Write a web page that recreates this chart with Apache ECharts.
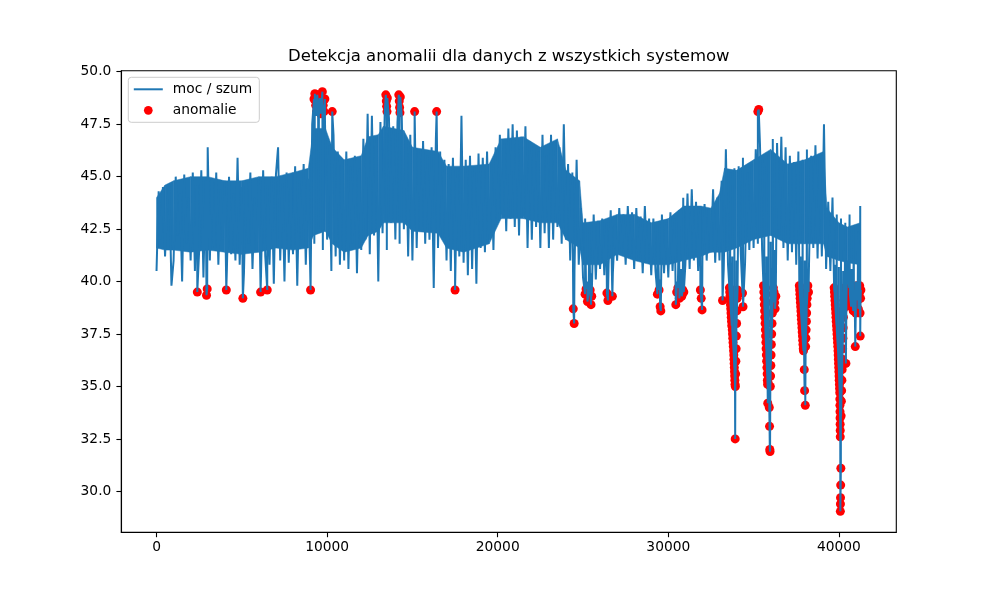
<!DOCTYPE html>
<html>
<head>
<meta charset="utf-8">
<title>Detekcja anomalii</title>
<script src="https://cdn.jsdelivr.net/npm/echarts@6/dist/echarts.min.js"></script>
<style>
  html, body { margin: 0; padding: 0; background: #fff; }
  #chart { width: 991px; height: 593px; }
</style>
</head>
<body>
<div id="chart"></div>
<script>
// power trace, one value every sampleStep samples
const sampleStep = 125;
const powerValues = [
  40.5, 44.3, 42.0, 44.5, 41.2, 43.8, 44.6, 39.8,
  41.0, 45.0, 42.2, 44.2, 40.0, 45.1, 41.8, 44.0,
  41.0, 45.2, 40.5, 44.6, 41.5, 45.3, 40.2, 44.8,
  46.4, 41.0, 44.9, 41.6, 45.2, 40.8, 44.4, 42.0,
  44.8, 40.6, 45.0, 41.3, 44.2, 41.0, 45.9, 40.8,
  44.5, 40.4, 44.8, 41.8, 45.2, 40.6, 44.0, 41.5,
  44.9, 40.3, 45.3, 41.2, 44.6, 40.8, 45.0, 39.9,
  45.1, 46.4, 41.0, 44.7, 40.0, 45.2, 40.9, 44.5,
  41.3, 45.5, 39.8, 44.8, 42.0, 45.6, 40.8, 44.9,
  40.8, 47.5, 41.8, 47.9, 42.5, 48.0, 41.5, 47.6,
  42.0, 46.5, 40.5, 47.0, 41.2, 46.2, 40.8, 45.8,
  41.0, 46.2, 40.6, 45.5, 41.8, 46.0, 40.4, 45.4,
  41.5, 46.8, 42.0, 48.0, 41.3, 47.9, 42.2, 46.9,
  40.0, 47.6, 42.3, 48.0, 41.5, 47.8, 42.8, 47.4,
  42.0, 47.6, 41.8, 47.9, 42.5, 46.8, 41.2, 47.0,
  41.0, 46.6, 41.6, 46.3, 42.4, 46.7, 41.8, 46.0,
  42.0, 46.4, 39.7, 46.8, 41.6, 46.2, 42.1, 45.8,
  41.0, 45.6, 40.5, 45.9, 40.8, 45.4, 41.2, 47.9,
  40.9, 45.8, 40.3, 46.0, 40.6, 45.5, 39.9, 46.1,
  41.6, 45.9, 41.4, 46.2, 42.0, 45.6, 41.5, 46.4,
  42.8, 47.0, 43.2, 46.6, 42.4, 47.3, 43.0, 47.5,
  42.6, 47.2, 42.2, 46.9, 43.1, 47.4, 41.6, 46.7,
  42.0, 46.5, 42.6, 46.2, 41.6, 47.0, 42.3, 46.0,
  41.6, 47.0, 42.0, 46.5, 42.6, 46.4, 41.8, 47.5,
  42.0, 45.6, 41.0, 45.2, 40.5, 45.8, 40.8, 43.5,
  40.2, 43.0, 40.0, 42.6, 40.4, 43.2, 40.1, 42.9,
  40.6, 43.0, 40.3, 42.8, 40.8, 43.4, 40.4, 42.7,
  41.0, 43.5, 41.4, 43.2, 40.8, 43.6, 41.2, 43.3,
  40.6, 43.5, 41.0, 43.1, 40.4, 43.6, 40.9, 43.0,
  40.3, 43.0, 40.5, 42.7, 40.1, 43.2, 40.4, 42.8,
  40.2, 43.3, 40.5, 43.0, 40.0, 43.4, 40.6, 44.0,
  40.8, 44.2, 40.6, 44.4, 41.0, 43.8, 40.5, 43.6,
  41.2, 43.7, 41.0, 43.5, 41.4, 44.4, 40.9, 44.0,
  41.0, 44.8, 40.6, 46.3, 40.8, 45.2, 41.2, 45.4,
  41.0, 45.5, 41.3, 45.9, 40.9, 45.2, 41.5, 45.6,
  41.6, 46.3, 41.8, 46.5, 41.5, 45.8, 41.2, 46.0,
  41.9, 46.8, 41.5, 46.6, 42.2, 46.9, 41.6, 46.4,
  41.0, 46.0, 41.4, 45.7, 40.8, 46.2, 41.2, 45.8,
  41.0, 46.3, 40.9, 46.0, 41.6, 46.5, 41.1, 45.9,
  41.2, 47.5, 40.6, 43.8, 40.5, 44.0, 40.8, 43.2,
  40.7, 43.0, 40.5, 42.8, 41.0, 43.2, 40.6, 42.6,
  40.0, 42.4, 43.6
];

// solid middle of the noise band (sample, lower edge, upper edge)
const bandX = [0, 500, 1000, 2000, 3000, 4000, 5000, 6000, 7000, 8000, 8900, 9200, 9900, 10300, 11000, 12000, 12400, 13000,
  13300, 14500, 15000, 16500, 17000, 18000, 19500, 20200, 21500, 22500, 23500, 24000, 24800, 25000, 26000, 27000, 28000,
  29000, 30000, 30900, 31900, 32500, 33000, 33300, 34000, 35000, 36000, 37000, 38000, 39100, 39300, 40000, 40500, 41250];
const bandLow = [41.6, 41.5, 41.5, 41.4, 41.5, 41.4, 41.3, 41.4, 41.6, 41.5, 41.6, 42.2, 42.4, 41.8, 41.4, 41.6, 42.2, 42.4,
  42.8, 42.8, 42.4, 42.3, 41.6, 41.4, 41.8, 43.0, 43.0, 42.8, 42.8, 42.0, 41.6, 40.8, 40.8, 41.3, 41.0,
  40.8, 40.8, 41.0, 41.2, 41.4, 41.4, 41.4, 41.6, 42.0, 42.2, 41.8, 41.8, 41.8, 41.2, 41.0, 40.9, 40.8];
const bandHigh = [44.0, 44.6, 44.8, 45.0, 45.0, 44.8, 44.8, 45.0, 45.0, 45.2, 45.4, 47.3, 47.3, 46.4, 45.8, 46.0, 46.9, 47.0,
  47.4, 47.2, 46.4, 46.2, 45.5, 45.5, 45.6, 46.8, 46.9, 46.4, 46.8, 45.3, 44.8, 42.8, 42.9, 43.2, 43.2,
  42.8, 43.0, 43.6, 43.6, 43.5, 44.2, 45.4, 45.3, 45.8, 46.3, 45.6, 45.8, 46.2, 43.5, 42.8, 42.6, 42.8];

// detected anomalies [sample, value]
const anomalies = [
  [2390, 39.5], [2930, 39.35], [2970, 39.65], [4090, 39.6], [5060, 39.2], [6100, 39.5], [6490, 39.6], [9030, 39.6],
  [9230, 48.7], [9280, 48.95], [9330, 48.4], [9380, 48.1], [9420, 48.9], [9470, 48.5], [9520, 48.2], [9580, 48.75],
  [9620, 48.0], [9680, 48.6], [9720, 49.05], [9770, 48.4], [9820, 48.1], [9870, 48.7], [10300, 48.1],
  [13440, 48.9], [13470, 48.6], [13490, 48.35], [13510, 48.1], [13530, 48.75],
  [14200, 48.9], [14230, 48.6], [14250, 48.3], [14270, 48.05], [14290, 48.8],
  [15130, 48.1], [16420, 48.1], [17500, 39.6],
  [24430, 38.7], [24480, 38.0],
  [25120, 39.4], [25180, 39.65], [25260, 39.05], [25330, 39.5], [25420, 39.6], [25470, 38.9], [25510, 39.3],
  [26400, 39.45], [26460, 39.1], [26720, 39.3],
  [29360, 39.4], [29460, 39.6], [29520, 38.8], [29560, 38.6],
  [30440, 38.9], [30490, 39.5], [30560, 39.7], [30650, 39.2], [30790, 39.3], [30850, 39.6], [30910, 39.5],
  [31880, 39.6], [31930, 39.2], [31980, 38.65], [33180, 39.1],
  // drop near 33900
  [33580, 39.7], [33600, 39.5], [33615, 39.3], [33630, 39.1], [33645, 38.9], [33660, 38.7], [33675, 38.5],
  [33690, 38.3], [33705, 38.1], [33720, 37.9], [33735, 39.6], [33750, 37.7], [33765, 37.5], [33780, 37.3],
  [33795, 37.1], [33810, 36.9], [33825, 36.7], [33840, 36.5], [33850, 36.3], [33860, 36.1], [33870, 35.9],
  [33880, 35.7], [33890, 35.5], [33900, 35.3], [33910, 35.1], [33920, 32.5], [33930, 35.0], [33945, 35.6],
  [33960, 36.2], [33975, 36.8], [33990, 37.4], [34005, 38.0], [34020, 38.6], [34040, 39.2], [34060, 39.6],
  [34350, 39.45], [34380, 38.8], [35250, 48.1], [35300, 48.2],
  // drop near 35900
  [35580, 39.8], [35600, 39.5], [35615, 39.2], [35630, 38.9], [35645, 38.6], [35660, 38.3], [35675, 38.0],
  [35690, 37.7], [35705, 37.4], [35720, 37.1], [35735, 36.8], [35750, 36.5], [35765, 36.2], [35780, 35.9],
  [35795, 35.6], [35810, 35.3], [35820, 35.1], [35830, 34.2], [35845, 35.2], [35860, 35.6], [35875, 36.0],
  [35890, 36.5], [35905, 37.0], [35920, 34.0], [35935, 33.1], [35950, 32.0], [35965, 31.9], [35980, 35.0],
  [35995, 35.5], [36010, 36.0], [36025, 36.5], [36040, 37.0], [36060, 37.5], [36080, 38.0], [36100, 38.5],
  [36120, 39.0], [36140, 39.4], [36160, 39.7], [36200, 39.5], [36230, 39.0], [36260, 38.7], [36300, 39.3],
  // drop near 37900
  [37680, 39.8], [37700, 39.6], [37715, 39.4], [37730, 39.2], [37745, 39.0], [37760, 38.8], [37775, 38.6],
  [37790, 38.4], [37805, 38.2], [37820, 38.0], [37835, 37.8], [37850, 37.6], [37865, 37.4], [37880, 37.2],
  [37895, 37.0], [37910, 36.8], [37925, 36.7], [37940, 37.1], [37955, 37.5], [37970, 35.8], [37990, 34.8],
  [38030, 34.1], [38050, 36.9], [38065, 37.3], [38080, 37.7], [38095, 38.1], [38110, 38.5], [38125, 38.9],
  [38140, 39.2], [38160, 39.5], [38180, 39.8], [38220, 39.5],
  // drop near 40000
  [39720, 39.7], [39740, 39.5], [39755, 39.3], [39770, 39.1], [39785, 38.9], [39800, 38.7], [39815, 38.5],
  [39830, 38.3], [39845, 38.1], [39860, 37.9], [39875, 37.7], [39890, 37.5], [39905, 37.3], [39920, 37.1],
  [39935, 36.9], [39950, 36.7], [39960, 36.5], [39970, 36.3], [39980, 36.1], [39990, 35.9], [40000, 35.7],
  [40010, 35.5], [40020, 35.3], [40030, 35.1], [40040, 34.9], [40050, 34.7], [40055, 34.4], [40060, 34.1],
  [40065, 33.8], [40070, 33.5], [40075, 33.2], [40078, 32.9], [40080, 32.6], [40085, 29.05], [40090, 29.4],
  [40095, 29.7], [40105, 30.3], [40115, 31.1], [40130, 33.6], [40145, 34.3], [40160, 34.8], [40175, 35.3],
  [40190, 35.8], [40205, 36.3], [40220, 36.8], [40235, 37.3], [40250, 37.8], [40265, 38.3], [40280, 38.7],
  [40300, 39.1], [40320, 39.5], [40340, 39.7], [40380, 39.3], [40410, 36.1], [40440, 39.0],
  // last stretch
  [40600, 39.7], [40640, 39.4], [40680, 39.1], [40720, 38.8], [40760, 39.5], [40800, 39.2], [40840, 38.6],
  [40880, 39.0], [40920, 39.6], [40960, 36.9], [40990, 38.5], [41020, 39.3], [41060, 39.8], [41100, 39.1],
  [41140, 38.7], [41180, 39.4], [41220, 39.8], [41240, 38.5], [41250, 37.4], [41270, 39.2], [41290, 39.6]
];

const xTicks = [0, 10000, 20000, 30000, 40000];
const yTicks = [30, 32.5, 35, 37.5, 40, 42.5, 45, 47.5, 50];

// the trace passes through the anomaly points too
const tracePoints = powerValues.map((v, i) => [i * sampleStep, v])
  .concat(anomalies)
  .sort((a, b) => a[0] - b[0]);
const bandData = bandX.map((x, i) => [x, bandLow[i], bandHigh[i]]);

const font = 'DejaVu Sans';
const blue = '#1f77b4';

// fills the band between point i and i+1
function renderBand(params, api) {
  const i = params.dataIndex;
  if (i >= bandData.length - 1) return null;
  const a = bandData[i], b = bandData[i + 1];
  const pts = [
    api.coord([a[0], a[1]]), api.coord([b[0], b[1]]),
    api.coord([b[0], b[2]]), api.coord([a[0], a[2]])
  ];
  return {
    type: 'polygon',
    shape: { points: pts },
    style: { fill: blue, stroke: blue, lineWidth: 0.5 }
  };
}

const chart = echarts.init(document.getElementById('chart'), null, { renderer: 'canvas' });
chart.setOption({
  animation: false,
  backgroundColor: '#fff',
  title: {
    text: 'Detekcja anomalii dla danych z wszystkich systemow',
    left: 508.8,
    top: 48,
    textAlign: 'center',
    padding: 0,
    textStyle: { fontFamily: font, fontSize: 16.5, fontWeight: 'normal', color: '#000' }
  },
  legend: {
    orient: 'vertical',
    left: 128.3,
    top: 77.3,
    data: [
      { name: 'moc / szum', itemStyle: { opacity: 0 } },
      { name: 'anomalie' }
    ],
    itemWidth: 29,
    itemHeight: 8.7,
    itemGap: 7,
    padding: [5, 7, 5, 4.5],
    borderColor: '#cccccc',
    borderWidth: 1,
    borderRadius: 3,
    backgroundColor: 'rgba(255,255,255,0.8)',
    selectedMode: false,
    textStyle: { fontFamily: font, fontSize: 13.8, color: '#000', lineHeight: 14, padding: [0, 0, 0, 5] }
  },
  grid: {
    left: 121.3,
    right: 94.7,
    top: 70.7,
    bottom: 60.7,
    show: true,
    borderColor: '#000',
    borderWidth: 1.1,
    outerBoundsMode: 'none'
  },
  xAxis: {
    type: 'value',
    min: -2065,
    max: 43365,
    axisLine: { show: true, onZero: false, lineStyle: { color: '#000', width: 1.1 } },
    axisTick: { show: true, length: 4.9, customValues: xTicks, lineStyle: { color: '#000', width: 1.1 } },
    axisLabel: {
      customValues: xTicks, margin: 8, color: '#000', fontFamily: font, fontSize: 13.8,
      formatter: v => String(v)
    },
    splitLine: { show: false }
  },
  yAxis: {
    type: 'value',
    min: 28.05,
    max: 50.05,
    axisLine: { show: true, onZero: false, lineStyle: { color: '#000', width: 1.1 } },
    axisTick: { show: true, length: 4.9, customValues: yTicks, lineStyle: { color: '#000', width: 1.1 } },
    axisLabel: {
      customValues: yTicks, margin: 10, color: '#000', fontFamily: font, fontSize: 13.8,
      formatter: v => v.toFixed(1)
    },
    splitLine: { show: false }
  },
  series: [
    {
      name: 'band', type: 'custom', data: bandData, renderItem: renderBand, silent: true,
      encode: { x: 0, y: [1, 2] }
    },
    {
      name: 'moc / szum', type: 'line', data: tracePoints, symbol: 'none',
      lineStyle: { color: blue, width: 2 },
      itemStyle: { color: blue }
    },
    {
      name: 'anomalie', type: 'scatter', data: anomalies, symbol: 'circle', symbolSize: 9,
      itemStyle: { color: '#ff0000', opacity: 1 }
    }
  ]
});
</script>
</body>
</html>
